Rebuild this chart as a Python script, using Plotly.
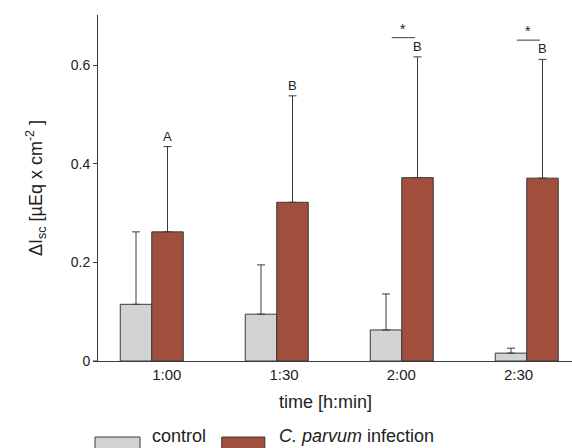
import plotly.graph_objects as go

categories = ["1:00", "1:30", "2:00", "2:30"]
control = [0.115, 0.095, 0.063, 0.016]
control_err = [0.147, 0.100, 0.073, 0.010]
infection = [0.262, 0.322, 0.372, 0.371]
infection_err = [0.173, 0.216, 0.245, 0.241]
letters = ["A", "B", "B", "B"]
significant = [False, False, True, True]

xs = list(range(len(categories)))
# tick labels in the original sit slightly off the bar groups
tick_pos = [0.12 + 0.938 * i for i in xs]
bar_w = 0.252
FONT = "Liberation Sans, Arial, sans-serif"
ink = "#3a3a3a"
c_ctrl = "#d2d4d4"
c_inf = "#9f4f3c"

fig = go.Figure()
fig.add_trace(go.Bar(
    x=xs, y=control, name="control",
    marker=dict(color=c_ctrl, line=dict(color=ink, width=1)),
    error_y=dict(type="data", array=control_err, symmetric=False,
                 arrayminus=[0] * len(control), color=ink, thickness=1, width=4),
))
fig.add_trace(go.Bar(
    x=xs, y=infection, name="C. parvum infection",
    marker=dict(color=c_inf, line=dict(color=ink, width=1)),
    error_y=dict(type="data", array=infection_err, symmetric=False,
                 arrayminus=[0] * len(infection), color=ink, thickness=1, width=4),
))

annotations = []
shapes = []
for i, (v, e, lab, sig) in enumerate(zip(infection, infection_err, letters, significant)):
    top = v + e
    annotations.append(dict(x=i + bar_w / 2, y=top, xref="x", yref="y", text=lab,
                            showarrow=False, yanchor="bottom", yshift=1,
                            font=dict(family=FONT, size=13, color="#222")))
    if sig:
        annotations.append(dict(x=i + 0.012, y=top, xref="x", yref="y", text="*",
                                showarrow=False, yanchor="bottom", yshift=18,
                                font=dict(family=FONT, size=14, color="#222")))
        shapes.append(dict(type="line", xref="x", yref="y",
                           x0=i - 0.08, x1=i + 0.105, y0=top + 0.039, y1=top + 0.039,
                           line=dict(color=ink, width=1)))

# x axis title (slightly left of centre, as in the original)
annotations.append(dict(x=0.481, y=-0.1185, xref="paper", yref="paper",
                        text="time [h:min]", showarrow=False, yanchor="middle",
                        font=dict(family=FONT, size=18, color="#222")))
# legend
annotations.append(dict(x=0.1097, y=-0.2514, xref="paper", yref="paper", text="control",
                        showarrow=False, xanchor="left", yanchor="bottom",
                        font=dict(family=FONT, size=18, color="#222")))
annotations.append(dict(x=0.377, y=-0.2514, xref="paper", yref="paper",
                        text="<i>C. parvum</i> infection",
                        showarrow=False, xanchor="left", yanchor="bottom",
                        font=dict(family=FONT, size=18, color="#222")))
shapes.append(dict(type="rect", xref="paper", yref="paper", x0=-0.0063, x1=0.0886,
                   y0=-0.2197, y1=-0.27, fillcolor=c_ctrl, line=dict(color=ink, width=1)))
shapes.append(dict(type="rect", xref="paper", yref="paper", x0=0.261, x1=0.352,
                   y0=-0.2197, y1=-0.27, fillcolor=c_inf, line=dict(color=ink, width=1)))
# small extension of the x axis line left of the y axis
shapes.append(dict(type="line", xref="paper", yref="y", x0=-0.011, x1=0, y0=0, y1=0,
                   line=dict(color=ink, width=1)))

fig.update_layout(
    width=572, height=448,
    margin=dict(l=98, r=0, t=15, b=87),
    paper_bgcolor="white", plot_bgcolor="white",
    barmode="group", bargap=0.496, bargroupgap=0,
    showlegend=False,
    font=dict(family=FONT, size=12, color="#222"),
    annotations=annotations, shapes=shapes,
    xaxis=dict(range=[-0.43, 3.362], tickvals=tick_pos, ticktext=categories,
               showline=True, linecolor=ink, linewidth=1, ticks="",
               showgrid=False, zeroline=False, tickfont=dict(size=15)),
    yaxis=dict(range=[0, 0.702], tickvals=[0, 0.2, 0.4, 0.6],
               ticktext=["0", "0.2", "0.4", "0.6"],
               showline=True, linecolor=ink, linewidth=1, ticks="outside",
               ticklen=4, tickcolor=ink, showgrid=False, zeroline=False,
               tickfont=dict(size=14),
               title=dict(text="ΔI<sub>sc</sub> [µEq x cm<sup>-2</sup> ]",
                          font=dict(size=18), standoff=23)),
)

fig.write_html("out.html")
